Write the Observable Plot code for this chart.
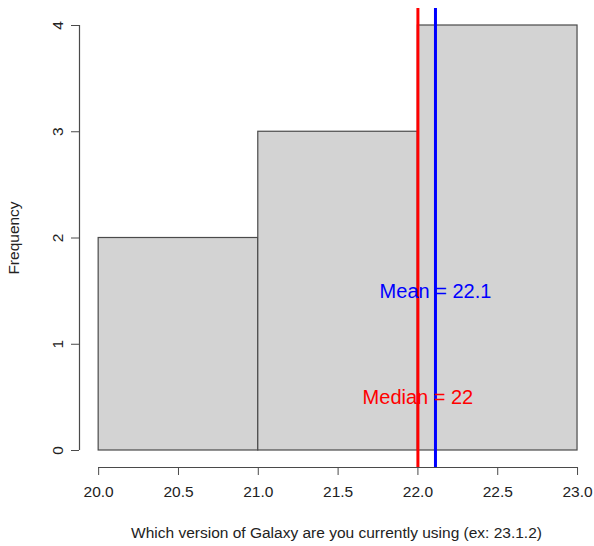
<!DOCTYPE html>
<html><head><meta charset="utf-8">
<script src="https://cdn.jsdelivr.net/npm/d3@7"></script>
<script src="https://cdn.jsdelivr.net/npm/@observablehq/plot@0.6"></script>
<style>body{margin:0;background:#fff} svg{display:block}</style>
</head><body><div id="chart"></div>
<script>
const binStarts = [20, 21, 22];
const binEnds = [21, 22, 23];
const counts = [2, 3, 4];
const meanValue = 22.11;
const meanLabel = "Mean = 22.1";
const medianValue = 22;
const medianLabel = "Median = 22";
const meanLabelAt = 1.5;
const medianLabelAt = 0.5;
const xTicks = [20, 20.5, 21, 21.5, 22, 22.5, 23];
const yTicks = [0, 1, 2, 3, 4];
const xTitle = "Which version of Galaxy are you currently using (ex: 23.1.2)";
const yTitle = "Frequency";

const xDomain = [19.88, 23.1];
const yDomain = [-0.16, 4.16];

const bins = binStarts.map((s, i) => ({x1: s, x2: binEnds[i], y: counts[i]}));
const font = "'Liberation Sans', Arial, Helvetica, sans-serif";

const chart = Plot.plot({
  width: 594,
  height: 546,
  marginLeft: 79,
  marginRight: 1,
  marginTop: 8,
  marginBottom: 79,
  style: {fontFamily: font, background: "#fff", color: "#222"},
  x: {domain: xDomain},
  y: {domain: yDomain},
  marks: [
    Plot.rectY(bins, {x1: "x1", x2: "x2", y1: 0, y2: "y", fill: "#d3d3d3", stroke: "#4a4a4a", strokeWidth: 1.2}),
    Plot.ruleX([medianValue], {stroke: "#ff0000", strokeWidth: 3}),
    Plot.ruleX([meanValue], {stroke: "#0000ff", strokeWidth: 3}),
    Plot.text([meanLabel], {x: meanValue, y: meanLabelAt, text: d => d, fill: "#0000ff", fontSize: 20}),
    Plot.text([medianLabel], {x: medianValue, y: medianLabelAt, text: d => d, fill: "#ff0000", fontSize: 20}),
    // axis lines (R style: only from first to last tick)
    Plot.ruleY([yDomain[0]], {x1: xTicks[0], x2: xTicks[xTicks.length - 1], stroke: "#4a4a4a", strokeWidth: 1.2}),
    Plot.ruleX([xDomain[0]], {y1: yTicks[0], y2: yTicks[yTicks.length - 1], stroke: "#4a4a4a", strokeWidth: 1.2}),
    Plot.axisX({ticks: xTicks, tickFormat: d => d.toFixed(1), tickSize: 8, tickPadding: 10, fontSize: 15.5,
      stroke: "#4a4a4a", label: xTitle, labelAnchor: "center", labelOffset: 70, labelArrow: false, labelFontSize: 16}),
    Plot.axisY({ticks: yTicks, tickFormat: d => String(d), tickSize: 8, tickPadding: 9, tickRotate: -90, fontSize: 15.5,
      stroke: "#4a4a4a", label: yTitle, labelAnchor: "center", labelOffset: 72, labelArrow: false})
  ]
});
document.getElementById("chart").appendChild(chart);
</script>
</body></html>
